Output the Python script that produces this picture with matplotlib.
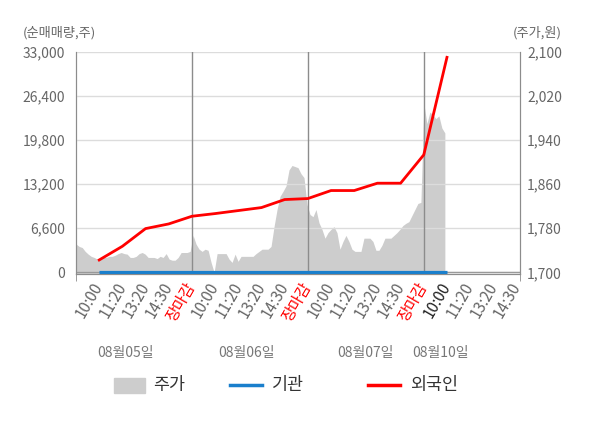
import numpy as np
import matplotlib.pyplot as plt
from matplotlib.patches import Rectangle
from matplotlib.lines import Line2D
import matplotlib.transforms as mtransforms

plt.rcParams['font.family'] = ['Noto Sans CJK KR', 'DejaVu Sans']

# x tick labels (4 trading days)
tick_labels = ['10:00', '11:20', '13:20', '14:30', '장마감',
               '10:00', '11:20', '13:20', '14:30', '장마감',
               '10:00', '11:20', '13:20', '14:30', '장마감',
               '10:00', '11:20', '13:20', '14:30']
day_labels = ['08월05일', '08월06일', '08월07일', '08월10일']

# cumulative net buying (shares), one value per tick
foreign = [1850, 3900, 6550, 7250, 8400, 8800, 9250, 9700,
           10900, 11050, 12250, 12250, 13350, 13350, 17600, 32200]
institution = [0, 0, 0, 0, 0, 0, 0, 0, 0, 0, 0, 0, 0, 0, 0, 0]

# stock price (won), sampled through the session
price_day1 = [1751, 1747, 1745, 1738, 1733, 1729, 1727, 1724, 1725, 1727,
              1727, 1729, 1729, 1731, 1734, 1736, 1734, 1733, 1727, 1727,
              1729, 1734, 1736, 1733, 1727, 1727, 1727, 1725, 1729, 1727,
              1734, 1724, 1722, 1722, 1727, 1736, 1736, 1736, 1738]
price_day2 = [1767, 1751, 1742, 1738, 1742, 1740, 1718, 1700, 1734, 1734,
              1734, 1734, 1724, 1718, 1733, 1720, 1729, 1729, 1729, 1729,
              1729, 1734, 1738, 1742, 1742, 1742, 1747, 1783, 1814, 1838,
              1847, 1857, 1886, 1894, 1892, 1890, 1879, 1872]
price_day3 = [1823, 1805, 1801, 1814, 1790, 1778, 1762, 1772, 1778, 1783,
              1772, 1742, 1756, 1767, 1756, 1742, 1738, 1738, 1738, 1762,
              1762, 1762, 1756, 1740, 1740, 1749, 1762, 1762, 1762, 1767,
              1772, 1778, 1785, 1789, 1792, 1803, 1814, 1825, 1827]
price_day4 = [2006, 1970, 1991, 1986, 1979, 1984, 1962, 1953]
price = price_day1 + price_day2 + price_day3 + price_day4

vol_min, vol_max = -250, 33000
price_min = 1700 - 250 * 400 / 33000
price_max = 2100

fig = plt.figure(figsize=(6, 4.28), dpi=100)
ax = fig.add_axes([76 / 600, 1 - 274 / 428, 444 / 600, 222 / 428])
ax2 = ax.twinx()
ax.set_zorder(2)
ax2.set_zorder(1)
ax.patch.set_visible(False)
ax2.patch.set_facecolor('#f4f4f4')

# price area on the right scale
price_x = np.linspace(-0.99, 14.91, len(price))
ax2.fill_between(price_x, price, price_min, color='#cdcdcd', lw=0)
ax2.set_ylim(price_min, price_max)
ax2.set_yticks(np.arange(1700, 2101, 80))
ax2.set_yticklabels([f'{v:,}' for v in range(1700, 2101, 80)])

# net buying lines on the left scale
ax.set_xlim(-1, 18.15)
ax.set_ylim(vol_min, vol_max)
ax.set_yticks(np.arange(0, 33001, 6600))
ax.set_yticklabels([f'{v:,}' for v in range(0, 33001, 6600)])
ax.grid(axis='y', color='#dcdcdc', lw=1)
ax.set_axisbelow(True)
for x in [4, 9, 14]:
    ax.axvline(x, color='#8c8c8c', lw=1, zorder=1.5)
ax.axhline(0, color='#999999', lw=1, zorder=1.6)
ax.plot(range(len(institution)), institution, color='#1a7fcc', lw=2.3, zorder=3,
        solid_capstyle='butt')
ax.plot(range(len(foreign)), foreign, color='#ff0000', lw=2, zorder=4)

ax.set_xticks(range(len(tick_labels)))
ax.set_xticklabels(tick_labels, rotation=60, ha='right', va='center',
                   rotation_mode='anchor', fontsize=11, color='#666666')
for i, lab in enumerate(ax.get_xticklabels()):
    if tick_labels[i] == '장마감':
        lab.set_color('#ff0000')
    elif i == 15:
        lab.set_color('#222222')
ax.tick_params(axis='x', length=0, pad=7)
ax.set_xticks([-1, 4, 9, 14, 18.15], minor=True)
ax.tick_params(axis='x', which='minor', length=5, color='#8c8c8c')

ax.tick_params(axis='y', length=0, pad=8, labelsize=10, labelcolor='#666666')
ax2.tick_params(axis='y', length=0, pad=5, labelsize=10, labelcolor='#666666')

for a in (ax, ax2):
    a.spines['top'].set_visible(False)
    for s in ('left', 'right', 'bottom'):
        a.spines[s].set_color('#8c8c8c')

# day labels under the time labels
trans = mtransforms.blended_transform_factory(ax.transData, fig.transFigure)
for x, lab in zip([1.12, 6.34, 11.47, 14.7], day_labels):
    ax.text(x, 1 - 353 / 428, lab, transform=trans, ha='center', va='center',
            fontsize=10, color='#777777')

fig.text(23 / 600, 1 - 33 / 428, '(순매매량,주)', ha='left', va='center',
         fontsize=9.5, color='#666666')
fig.text(562 / 600, 1 - 33 / 428, '(주가,원)', ha='right', va='center',
         fontsize=9.5, color='#666666')

# legend
ly = 1 - 385 / 428
fig.patches.append(Rectangle((114 / 600, 1 - 393 / 428), 31 / 600, 15 / 428,
                             transform=fig.transFigure, color='#cdcdcd'))
fig.lines.append(Line2D([230 / 600, 262 / 600], [ly, ly], transform=fig.transFigure,
                        color='#1a7fcc', lw=2.5))
fig.lines.append(Line2D([368 / 600, 400 / 600], [ly, ly], transform=fig.transFigure,
                        color='#ff0000', lw=2.5))
for x, lab in [(153, '주가'), (272, '기관'), (410, '외국인')]:
    fig.text(x / 600, ly, lab, ha='left', va='center', fontsize=12.5, color='#333333')

fig.savefig('out.png', dpi=100)
